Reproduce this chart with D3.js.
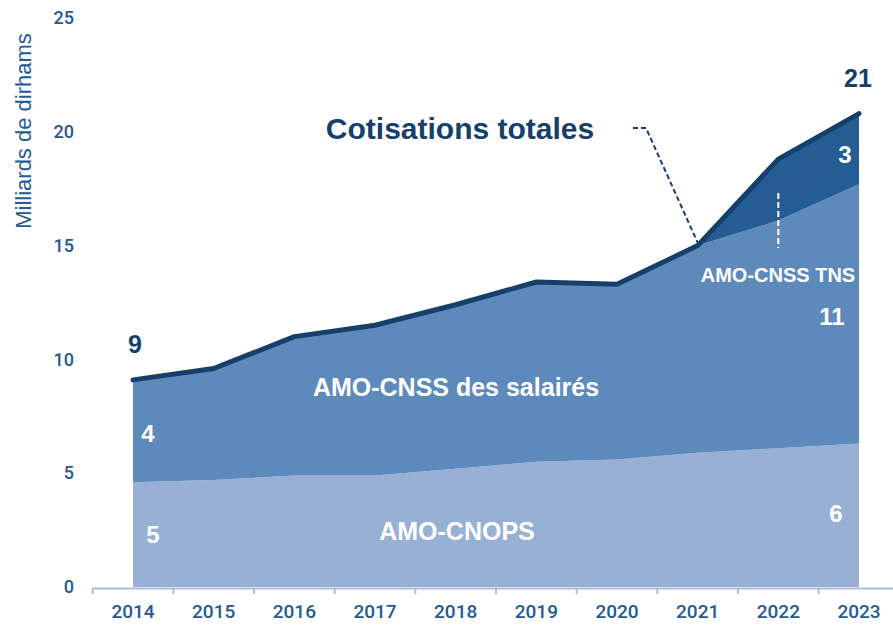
<!DOCTYPE html>
<html>
<head>
<meta charset="utf-8">
<script src="https://cdn.jsdelivr.net/npm/d3@7"></script>
<style>
  body { margin: 0; background: #fff; }
  svg { display: block; }
</style>
</head>
<body>
<svg></svg>
<script>
const years = ['2014', '2015', '2016', '2017', '2018', '2019', '2020', '2021', '2022', '2023'];
// milliards de dirhams
const cnops = [4.6, 4.7, 4.9, 4.9, 5.2, 5.5, 5.6, 5.9, 6.1, 6.3];
const salaries = [4.5, 4.9, 6.1, 6.6, 7.2, 7.9, 7.7, 9.1, 10.0, 11.4];
const tns = [0, 0, 0, 0, 0, 0, 0, 0, 2.7, 3.1];
const yTicks = [0, 5, 10, 15, 20, 25];

const width = 893, height = 628;
const colors = { cnops: '#98b0d3', salaries: '#5e89bb', tns: '#245d93' };
const navy = '#163f6a';
const axisBlue = '#245a91';

const svg = d3.select('svg')
    .attr('width', width)
    .attr('height', height);

const rows = years.map((y, i) => ({ year: y, cnops: cnops[i], salaries: salaries[i], tns: tns[i] }));
const stack = d3.stack().keys(['cnops', 'salaries', 'tns'])(rows);

const x = d3.scalePoint().domain(years).range([133, 859]);
const band = d3.scaleBand().domain(years).range([133 - x.step() / 2, 859 + x.step() / 2]);
const y = d3.scaleLinear().domain([0, 25]).range([587, 18]);

const area = d3.area()
    .x(d => x(d.data.year))
    .y0(d => y(d[0]))
    .y1(d => y(d[1]));

svg.append('g')
    .attr('class', 'areas')
    .selectAll('path')
    .data(stack)
    .enter()
    .append('path')
    .attr('d', area)
    .attr('fill', d => colors[d.key]);

// total line
const totalLayer = stack[stack.length - 1];
svg.append('path')
    .datum(totalLayer)
    .attr('fill', 'none')
    .attr('stroke', navy)
    .attr('stroke-width', 5)
    .attr('stroke-linejoin', 'round')
    .attr('stroke-linecap', 'round')
    .attr('d', d3.line().x(d => x(d.data.year)).y(d => y(d[1])));

// x axis: labels at centres, ticks at boundaries
const xAxis = svg.append('g')
    .attr('transform', 'translate(0,588)')
    .call(d3.axisBottom(band).tickSize(0).tickPadding(17));
xAxis.select('.domain').attr('stroke', '#a9bddb').attr('stroke-width', 2);
xAxis.selectAll('text')
    .attr('font-family', 'Roboto')
    .attr('font-weight', 500)
    .attr('font-size', '19px')
    .attr('fill', axisBlue);
const bounds = years.map(d => band(d)).concat([band.range()[1]]);
xAxis.selectAll('line.bound')
    .data(bounds)
    .enter()
    .append('line')
    .attr('class', 'bound')
    .attr('x1', d => d).attr('x2', d => d)
    .attr('y1', 0).attr('y2', 6)
    .attr('stroke', '#a9bddb')
    .attr('stroke-width', 2);

// y axis labels only
const yAxis = svg.append('g')
    .attr('transform', 'translate(82,0)')
    .call(d3.axisLeft(y).tickValues(yTicks).tickSize(0).tickPadding(8));
yAxis.select('.domain').remove();
yAxis.selectAll('text')
    .attr('font-family', 'Roboto')
    .attr('font-weight', 500)
    .attr('font-size', '18px')
    .attr('fill', axisBlue);

svg.append('text')
    .attr('transform', 'translate(31,131) rotate(-90)')
    .attr('text-anchor', 'middle')
    .attr('font-family', 'Liberation Sans')
    .attr('font-size', '22px')
    .attr('fill', axisBlue)
    .text('Milliards de dirhams');

// annotations
function label(txt, cx, cy, size, fill) {
    svg.append('text')
        .attr('x', cx)
        .attr('y', cy)
        .attr('text-anchor', 'middle')
        .attr('font-family', 'Liberation Sans')
        .attr('font-weight', 'bold')
        .attr('font-size', size + 'px')
        .attr('fill', fill)
        .text(txt);
}

label('Cotisations totales', 460, 139, 30, navy);
label('9', 135, 353, 25, navy);
label('21', 858, 87, 25, navy);
label('3', 845, 163, 24, '#fff');
label('AMO-CNSS TNS', 778, 282, 20, '#fff');
label('11', 832, 325, 24, '#fff');
label('AMO-CNSS des salairés', 456, 396, 25, '#fff');
label('4', 148, 442, 24, '#fff');
label('AMO-CNOPS', 457, 540, 25, '#fff');
label('5', 153, 543, 24, '#fff');
label('6', 836, 522, 24, '#fff');

// leader to the total line
const i2021 = years.indexOf('2021');
svg.append('path')
    .attr('fill', 'none')
    .attr('stroke', navy)
    .attr('stroke-width', 2)
    .attr('stroke-dasharray', '5,3')
    .attr('d', `M633,128 L646,128 L${x('2021')},${y(totalLayer[i2021][1]) - 3}`);

// white dashed marker for TNS
svg.append('line')
    .attr('x1', x('2022')).attr('x2', x('2022'))
    .attr('y1', 193).attr('y2', 248)
    .attr('stroke', '#fff')
    .attr('stroke-width', 2)
    .attr('stroke-dasharray', '6,3');
</script>
</body>
</html>
